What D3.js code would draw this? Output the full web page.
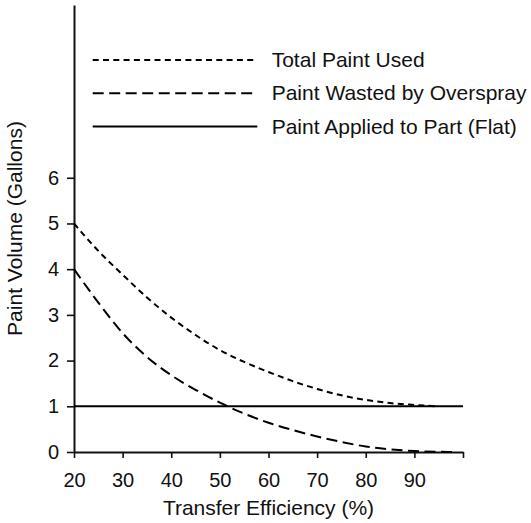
<!DOCTYPE html>
<html>
<head>
<meta charset="utf-8">
<script src="https://cdn.jsdelivr.net/npm/d3@7"></script>
<style>
  body { margin: 0; background: #fff; }
  text { font-family: "Liberation Sans", Arial, sans-serif; fill: #111; }
</style>
</head>
<body>
<div id="chart"></div>
<script>
// values
var efficiency = [20, 25, 30, 35, 40, 45, 50, 55, 60, 65, 70, 75, 80, 85, 90, 94.5];
var totalUsed  = [5.0, 4.4, 3.88, 3.38, 2.94, 2.56, 2.23, 1.97, 1.75, 1.55, 1.38, 1.24, 1.14, 1.07, 1.03, 1.0];
var wasteEff   = [20, 25, 30, 35, 40, 45, 50, 55, 60, 65, 70, 75, 80, 85, 90, 98];
var wasted     = [4.0, 3.27, 2.6, 2.08, 1.68, 1.36, 1.08, 0.84, 0.64, 0.48, 0.34, 0.22, 0.12, 0.06, 0.02, 0.0];
var flatEff    = [20, 100];
var applied    = [1, 1];
var xTicks = [20, 30, 40, 50, 60, 70, 80, 90, 100];
var yTicks = [0, 1, 2, 3, 4, 5, 6];
var legendLabels = ["Total Paint Used", "Paint Wasted by Overspray", "Paint Applied to Part (Flat)"];

var W = 531, H = 523;
var margin = { top: 5, right: 68, bottom: 71, left: 74 },
    width = W - margin.left - margin.right,
    height = H - margin.top - margin.bottom;

var svg = d3.select("#chart")
    .append("svg")
    .attr("width", W)
    .attr("height", H)
    .append("g")
    .attr("transform", "translate(" + margin.left + "," + margin.top + ")");

var x = d3.scaleLinear().domain([20, 100]).range([0, width]);
var y = d3.scaleLinear().domain([0, 9.78]).range([height, 0]);

// axes
var xAxis = svg.append("g")
    .attr("transform", "translate(0," + height + ")")
    .call(d3.axisBottom(x).tickValues(xTicks).tickSize(6).tickSizeOuter(0).tickPadding(15)
        .tickFormat(function (d) { return d === 100 ? "" : d; }));

var yAxis = svg.append("g")
    .call(d3.axisLeft(y).tickValues(yTicks).tickSize(7).tickSizeOuter(0).tickPadding(8));

[xAxis, yAxis].forEach(function (a) {
    a.select(".domain").attr("stroke", "#111").attr("stroke-width", 2);
    a.selectAll(".tick line").attr("stroke", "#111").attr("stroke-width", 1.6);
    a.selectAll(".tick text").style("font-size", "20px").style("font-family", "Liberation Sans, Arial, sans-serif").attr("fill", "#111");
});

// axis titles
svg.append("text")
    .attr("x", width / 2)
    .attr("y", height + 63)
    .attr("text-anchor", "middle")
    .style("font-size", "21px")
    .text("Transfer Efficiency (%)");

svg.append("text")
    .attr("transform", "rotate(-90)")
    .attr("x", -height / 2)
    .attr("y", -52)
    .attr("text-anchor", "middle")
    .style("font-size", "21px")
    .text("Paint Volume (Gallons)");

// lines
var series = [
    { xs: efficiency, ys: totalUsed, dash: "6,4.3" },
    { xs: wasteEff, ys: wasted, dash: "11,5.5" },
    { xs: flatEff, ys: applied, dash: null }
];

var line = d3.line()
    .x(function (d) { return x(d[0]); })
    .y(function (d) { return y(d[1]); })
    .curve(d3.curveMonotoneX);

series.forEach(function (s) {
    svg.append("path")
        .datum(d3.zip(s.xs, s.ys))
        .attr("fill", "none")
        .attr("stroke", "#000")
        .attr("stroke-width", 2)
        .attr("stroke-dasharray", s.dash)
        .attr("d", line);
});

// legend
var legend = svg.selectAll("g.leg")
    .data(legendLabels)
    .enter()
    .append("g")
    .attr("class", "leg")
    .attr("transform", function (d, i) { return "translate(0," + (55 + i * 33.3) + ")"; });

legend.append("line")
    .attr("x1", 18.7)
    .attr("x2", 183.3)
    .attr("stroke", "#000")
    .attr("stroke-width", 2)
    .attr("stroke-dasharray", function (d, i) { return series[i].dash; });

legend.append("text")
    .attr("x", 197.7)
    .attr("y", 7)
    .style("font-size", "21px")
    .text(function (d) { return d; });
</script>
</body>
</html>
